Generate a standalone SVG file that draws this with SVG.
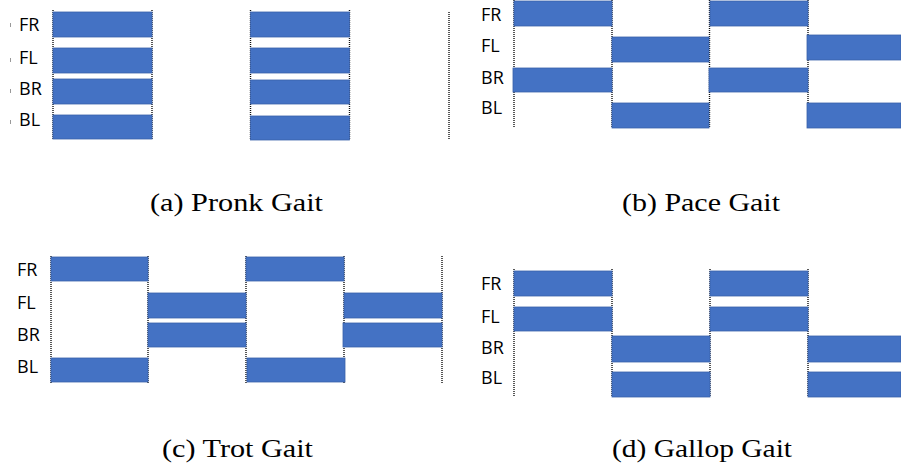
<svg xmlns="http://www.w3.org/2000/svg" width="901" height="468" viewBox="0 0 901 468">
  <style>
    .bar { fill: #4472C4; stroke: #3A62AA; stroke-width: 0.8; }
    .dot { stroke: #111; stroke-width: 1.4; stroke-dasharray: 1 1; fill: none; }
    .leg { font-family: "Open Sans", "Liberation Sans", sans-serif; font-size: 18px; fill: #000; }
    .cap { font-family: "Liberation Serif", "DejaVu Serif", serif; font-size: 25px; fill: #000; }
    .tick { stroke: #999; stroke-width: 1; }
  </style>
  <rect width="901" height="468" fill="#fff"/>

  <!-- (a) Pronk gait -->
  <g id="pronk">
    <g id="pronk-grid">
      <line class="dot" x1="53" y1="10" x2="53" y2="140"/>
      <line class="dot" x1="152" y1="10" x2="152" y2="140"/>
      <line class="dot" x1="250.5" y1="10" x2="250.5" y2="140"/>
      <line class="dot" x1="349.5" y1="10" x2="349.5" y2="140"/>
      <line class="dot" x1="449" y1="12" x2="449" y2="140"/>
    </g>
    <g id="pronk-ticks">
      <line class="tick" x1="10.5" y1="23" x2="10.5" y2="27"/>
      <line class="tick" x1="10.5" y1="58" x2="10.5" y2="62"/>
      <line class="tick" x1="10.5" y1="89" x2="10.5" y2="93"/>
      <line class="tick" x1="10.5" y1="120" x2="10.5" y2="124"/>
    </g>
    <text class="leg" x="19" y="31">FR</text>
    <text class="leg" x="19" y="64">FL</text>
    <text class="leg" x="19" y="95">BR</text>
    <text class="leg" x="19" y="126">BL</text>
    <rect class="bar" x="53" y="12" width="99" height="25"/>
    <rect class="bar" x="53" y="48" width="99" height="25"/>
    <rect class="bar" x="53" y="79" width="99" height="25"/>
    <rect class="bar" x="53" y="115" width="99" height="24"/>
    <rect class="bar" x="250.5" y="12" width="99" height="25"/>
    <rect class="bar" x="250.5" y="48" width="99" height="25"/>
    <rect class="bar" x="250.5" y="80" width="99" height="24"/>
    <rect class="bar" x="250.5" y="116" width="99" height="24"/>
    <text class="cap" x="150" y="211" textLength="173" lengthAdjust="spacingAndGlyphs">(a)  Pronk Gait</text>
  </g>

  <!-- (b) Pace gait -->
  <g id="pace">
    <g id="pace-grid">
      <line class="dot" x1="514" y1="0" x2="514" y2="128"/>
      <line class="dot" x1="612" y1="0" x2="612" y2="128"/>
      <line class="dot" x1="709.5" y1="0" x2="709.5" y2="128"/>
      <line class="dot" x1="808" y1="0" x2="808" y2="128"/>
    </g>
    <text class="leg" x="481" y="21">FR</text>
    <text class="leg" x="481" y="52">FL</text>
    <text class="leg" x="481" y="84">BR</text>
    <text class="leg" x="481" y="114">BL</text>
    <rect class="bar" x="514" y="1" width="98" height="25"/>
    <rect class="bar" x="710" y="1" width="98" height="25"/>
    <rect class="bar" x="612" y="37" width="97" height="25"/>
    <rect class="bar" x="807" y="35" width="94" height="25"/>
    <rect class="bar" x="513" y="68" width="99" height="24"/>
    <rect class="bar" x="709" y="68" width="99" height="24"/>
    <rect class="bar" x="612" y="103" width="97" height="25"/>
    <rect class="bar" x="807" y="103" width="94" height="25"/>
    <text class="cap" x="622" y="211" textLength="158" lengthAdjust="spacingAndGlyphs">(b)  Pace Gait</text>
  </g>

  <!-- (c) Trot gait -->
  <g id="trot">
    <g id="trot-grid">
      <line class="dot" x1="51" y1="256" x2="51" y2="384"/>
      <line class="dot" x1="148" y1="256" x2="148" y2="384"/>
      <line class="dot" x1="246" y1="256" x2="246" y2="384"/>
      <line class="dot" x1="344" y1="256" x2="344" y2="384"/>
      <line class="dot" x1="442" y1="256" x2="442" y2="384"/>
    </g>
    <text class="leg" x="17" y="276">FR</text>
    <text class="leg" x="17" y="309">FL</text>
    <text class="leg" x="17" y="341">BR</text>
    <text class="leg" x="17" y="373">BL</text>
    <rect class="bar" x="51" y="257" width="97" height="24"/>
    <rect class="bar" x="246" y="257" width="98" height="24"/>
    <rect class="bar" x="148" y="293" width="98" height="25"/>
    <rect class="bar" x="344" y="293" width="98" height="25"/>
    <rect class="bar" x="148" y="323" width="98" height="24"/>
    <rect class="bar" x="343" y="323" width="99" height="24"/>
    <rect class="bar" x="51" y="358" width="97" height="24"/>
    <rect class="bar" x="247" y="358" width="98" height="24"/>
    <text class="cap" x="162" y="457" textLength="151" lengthAdjust="spacingAndGlyphs">(c)  Trot Gait</text>
  </g>

  <!-- (d) Gallop gait -->
  <g id="gallop">
    <g id="gallop-grid">
      <line class="dot" x1="514" y1="269" x2="514" y2="397"/>
      <line class="dot" x1="612" y1="269" x2="612" y2="397"/>
      <line class="dot" x1="710" y1="269" x2="710" y2="397"/>
      <line class="dot" x1="808" y1="269" x2="808" y2="397"/>
    </g>
    <text class="leg" x="481" y="290">FR</text>
    <text class="leg" x="481" y="323">FL</text>
    <text class="leg" x="481" y="354">BR</text>
    <text class="leg" x="481" y="384">BL</text>
    <rect class="bar" x="514" y="271" width="98" height="25"/>
    <rect class="bar" x="710" y="271" width="98" height="25"/>
    <rect class="bar" x="514" y="307" width="98" height="24"/>
    <rect class="bar" x="710" y="307" width="98" height="24"/>
    <rect class="bar" x="612" y="336" width="98" height="26"/>
    <rect class="bar" x="808" y="336" width="93" height="26"/>
    <rect class="bar" x="612" y="372" width="98" height="25"/>
    <rect class="bar" x="808" y="372" width="93" height="25"/>
    <text class="cap" x="612" y="457" textLength="180" lengthAdjust="spacingAndGlyphs">(d)  Gallop Gait</text>
  </g>
</svg>
